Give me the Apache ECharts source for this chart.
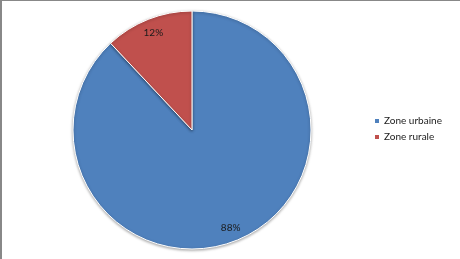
<!DOCTYPE html>
<html><head><meta charset="utf-8">
<script src="https://cdn.jsdelivr.net/npm/echarts@6/dist/echarts.min.js"></script>
<style>
html,body{margin:0;padding:0;background:#fff;}
#c{position:absolute;left:0;top:0;width:460px;height:259px;}
#b{position:absolute;left:0;top:0;width:460px;height:259px;box-sizing:border-box;border-left:2px solid #888;border-top:1px solid #888;pointer-events:none;}
</style></head>
<body><div id="c"></div><div id="b"></div>
<script>
const categories = ['Zone urbaine', 'Zone rurale'];
const values = [88, 12];
const colors = ['#4F81BD', '#C0504D'];

const data = categories.map((n, i) => ({ name: n, value: values[i], itemStyle: { color: colors[i] } }));
const chart = echarts.init(document.getElementById('c'), null, { renderer: 'canvas' });
const font = 'Lato, "Open Sans", sans-serif';
chart.setOption({
  animation: false,
  legend: {
    orient: 'vertical', left: 368, top: 110,
    itemWidth: 6, itemHeight: 6, itemGap: 4, icon: 'rect',
    textStyle: { fontFamily: font, fontSize: 10, color: '#222', lineHeight: 12, padding: [0, 0, 0, -1] },
    data: categories
  },
  series: [
    {
      type: 'pie', center: [192, 130], radius: [0, 119], startAngle: 90, clockwise: true,
      label: { show: false }, labelLine: { show: false },
      itemStyle: { borderColor: '#fff', borderWidth: 1, shadowBlur: 3, shadowOffsetY: 1, shadowColor: 'rgba(0,0,0,0.35)' },
      emphasis: { disabled: true },
      data: data
    },
    {
      type: 'pie', center: [192, 130], radius: [89, 115], startAngle: 90, clockwise: true, silent: true,
      legendHoverLink: false,
      itemStyle: { color: 'rgba(0,0,0,0)' },
      label: { show: true, position: 'inside', formatter: p => p.value + '%', fontFamily: font, fontSize: 10, color: '#1a1a1a' },
      labelLine: { show: false },
      emphasis: { disabled: true },
      data: categories.map((n, i) => ({ name: n + ' ', value: values[i] }))
    }
  ]
});
</script></body></html>
